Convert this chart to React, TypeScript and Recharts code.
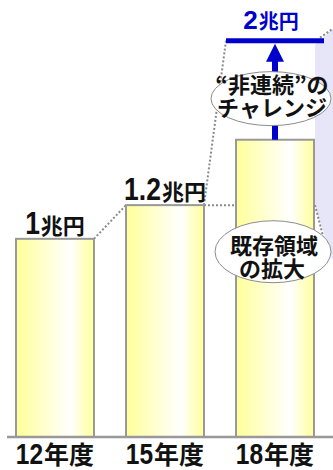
import React from 'react';
import { BarChart, Bar, XAxis, YAxis, LabelList } from 'recharts';

// 売上規模の推移（兆円）
const years = ['12年度', '15年度', '18年度'];
const sales = [1, 1.17, 1.5];
const salesLabels = ['1', '1.2', ''];
const target = 2;
const targetLabel = '2';
const unitLabel = '兆円';
const challengeLines = ['“非連続”の', 'チャレンジ'];
const expandLines = ['既存領域', 'の拡大'];

const W = 333;
const H = 470;
const MARGIN = { top: 1, right: 0, bottom: 0, left: 7 };
const PAD = { left: -7, right: 3 };
const AXIS_H = 33;
const STEP = (W - MARGIN.left - MARGIN.right - PAD.left - PAD.right) / years.length;

const NUM_FONT = "'Liberation Sans', Arial, sans-serif";
const JP_FONT = "'Noto Sans CJK JP', sans-serif";
const BLUE = '#0000CC';
const GRAY = '#999999';
const DOT = { stroke: '#8a8a8a', strokeWidth: 2, strokeDasharray: '2 2' };

const rows = years.map((year, i) => ({ year, sales: sales[i], label: salesLabels[i] }));

// narrow, tall digits like the original slide font
const narrow = (s: string, size: number, f = 0.46) =>
  s.split('').reduce((w, ch) => w + (ch === '.' ? f / 2 : f), 0) * size;

function Amount({ x, y, num, color, numSize, unitSize, f }: any) {
  return (
    <text x={x} y={y} textAnchor="middle" fill={color}>
      <tspan
        fontFamily={NUM_FONT}
        fontWeight={600}
        fontSize={numSize}
        textLength={narrow(num, numSize, f)}
        lengthAdjust="spacingAndGlyphs"
      >
        {num}
      </tspan>
      <tspan fontFamily={JP_FONT} fontWeight="bold" fontSize={unitSize} dx={1}>
        {unitLabel}
      </tspan>
    </text>
  );
}

function BubbleText({ x, y, children }: any) {
  return (
    <text x={x} y={y} textAnchor="middle" fontFamily={JP_FONT} fontWeight="bold" fontSize={22} fill="#111">
      {children}
    </text>
  );
}

function YearBar(props: any) {
  const { x, y, width, height, index } = props;
  const base = y + height;
  const k = height / sales[index];
  const yOf = (v: number) => base - v * k;
  const right = x + width;
  const cx = x + width / 2;

  let extra: React.ReactNode = null;
  if (index === 0) {
    extra = <line x1={right} y1={y} x2={x + STEP} y2={yOf(sales[1])} {...DOT} />;
  } else if (index === 1) {
    extra = (
      <g>
        <line x1={right} y1={y} x2={x + STEP} y2={y} {...DOT} />
        <line x1={right} y1={y} x2={x + STEP - 10} y2={yOf(target)} {...DOT} />
      </g>
    );
  } else if (index === 2) {
    const yT = yOf(target);
    const yLow = yOf(sales[1]);
    extra = (
      <g>
        <polygon
          points={`${right + 1},${yT + 4} ${W},${yT - 12} ${W},${yLow + 56} ${right + 1},${yLow}`}
          fill="#E6E6F8"
        />
        <line x1={right + 6} y1={yT - 3} x2={W} y2={yT - 12} {...DOT} />
        <line x1={right + 1} y1={yLow} x2={right + 15} y2={yLow + 54} {...DOT} />
        <line x1={x - 10} y1={yT} x2={right + 10} y2={yT} stroke={BLUE} strokeWidth={5} />
        <Amount x={cx - 4} y={yT - 12} num={targetLabel} color={BLUE} numSize={25} unitSize={20} f={0.58} />
        <rect x={cx - 3} y={yT + 18} width={6} height={y - yT - 18} fill={BLUE} />
        <polygon points={`${cx},${yT + 3} ${cx - 9},${yT + 21} ${cx + 9},${yT + 21}`} fill={BLUE} />

        <ellipse cx={cx - 4} cy={yT + 58} rx={60} ry={27} fill="#fff" stroke="#8c8c8c" strokeWidth={1} />
        <BubbleText x={cx - 3} y={yT + 52}>{challengeLines[0]}</BubbleText>
        <BubbleText x={cx - 3} y={yT + 75}>{challengeLines[1]}</BubbleText>

        <ellipse cx={cx - 2} cy={y + 112} rx={58} ry={31} fill="#fff" stroke="#8c8c8c" strokeWidth={1} />
        <BubbleText x={cx - 1} y={y + 114}>{expandLines[0]}</BubbleText>
        <BubbleText x={cx - 3} y={y + 137}>{expandLines[1]}</BubbleText>
      </g>
    );
  }

  return (
    <g>
      {index === 2 ? null : extra}
      <rect x={x} y={y} width={width} height={height} fill="url(#barFill)" stroke={GRAY} strokeWidth={2} />
      {index === 2 ? extra : null}
    </g>
  );
}

function ValueLabel(props: any) {
  const { x, y, width, value } = props;
  if (!value) return null;
  return <Amount x={x + width / 2} y={y - 5} num={value} color="#111" numSize={32} unitSize={22} />;
}

function YearTick(props: any) {
  const { x, y, payload } = props;
  const m = String(payload.value).match(/^(\d+)(.*)$/);
  const num = m ? m[1] : '';
  const rest = m ? m[2] : payload.value;
  return (
    <text x={x} y={y + 27} textAnchor="middle" fill="#111">
      <tspan
        fontFamily={NUM_FONT}
        fontWeight={600}
        fontSize={29}
        textLength={narrow(num, 29, 0.47)}
        lengthAdjust="spacingAndGlyphs"
      >
        {num}
      </tspan>
      <tspan fontFamily={JP_FONT} fontWeight="bold" fontSize={25} dx={1}>
        {rest}
      </tspan>
    </text>
  );
}

export default function App() {
  return (
    <div style={{ position: 'absolute', left: 0, top: 0, width: W, height: H, background: '#fff' }}>
      <BarChart width={W} height={H} data={rows} margin={MARGIN}>
        <defs>
          <linearGradient id="barFill" x1="0" y1="0" x2="1" y2="0">
            <stop offset="0%" stopColor="#FFFF99" />
            <stop offset="70%" stopColor="#FFFFFF" />
            <stop offset="100%" stopColor="#FFFF99" />
          </linearGradient>
        </defs>
        <XAxis
          dataKey="year"
          height={AXIS_H}
          padding={PAD}
          interval={0}
          tickLine={false}
          tickSize={0}
          tickMargin={0}
          axisLine={{ stroke: GRAY, strokeWidth: 2.5 }}
          tick={<YearTick />}
        />
        <YAxis hide domain={[0, 2.2]} />
        <Bar dataKey="sales" barSize={78} shape={<YearBar />} isAnimationActive={false}>
          <LabelList dataKey="label" content={<ValueLabel />} />
        </Bar>
      </BarChart>
    </div>
  );
}
